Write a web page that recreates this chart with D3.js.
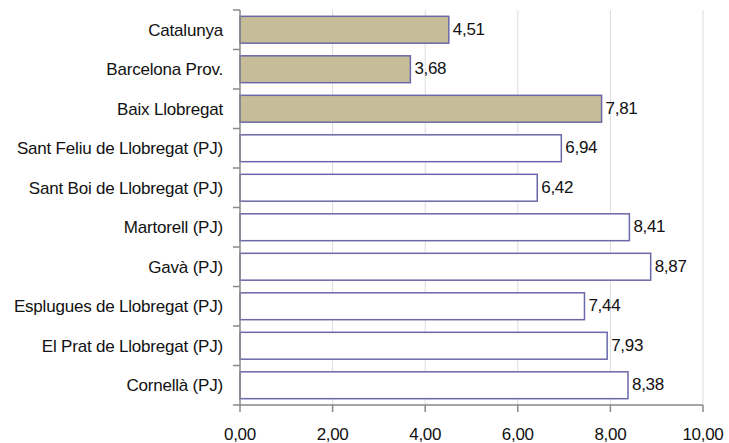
<!DOCTYPE html>
<html>
<head>
<meta charset="utf-8">
<script src="https://cdn.jsdelivr.net/npm/d3@7"></script>
<style>
  body { margin: 0; background: #fff; }
  text { font-family: "Liberation Sans", Arial, sans-serif; }
</style>
</head>
<body>
<script>
const categories = ['Catalunya', 'Barcelona Prov.', 'Baix Llobregat', 'Sant Feliu de Llobregat (PJ)',
    'Sant Boi de Llobregat (PJ)', 'Martorell (PJ)', 'Gavà (PJ)', 'Esplugues de Llobregat (PJ)',
    'El Prat de Llobregat (PJ)', 'Cornellà (PJ)']
const values = [4.51, 3.68, 7.81, 6.94, 6.42, 8.41, 8.87, 7.44, 7.93, 8.38]
const highlighted = ['Catalunya', 'Barcelona Prov.', 'Baix Llobregat']
const xTicks = [0, 2, 4, 6, 8, 10]

const margin = {top: 10, right: 26, bottom: 38, left: 240}
, width = 729 - margin.left - margin.right
, height = 443 - margin.top - margin.bottom

const data = categories.map((c, i) => ({name: c, value: values[i]}))
const fmt = v => d3.format('.2f')(v).replace('.', ',')

const svg = d3.select('body').append('svg')
    .attr('width', 729)
    .attr('height', 443)

const xScale = d3.scaleLinear()
    .domain([0, 10])
    .range([margin.left, margin.left + width])

const yScale = d3.scaleBand()
    .domain(categories)
    .range([margin.top, margin.top + height])
    .paddingInner(0.32)
    .paddingOuter(0.16)

// vertical gridlines
svg.selectAll('.grid').data(xTicks.slice(1))
    .enter()
    .append('line')
        .attr('x1', d => xScale(d))
        .attr('x2', d => xScale(d))
        .attr('y1', margin.top)
        .attr('y2', margin.top + height)
        .attr('stroke', '#dcdcdc')
        .attr('stroke-width', 1)

// bars
svg.selectAll('.bar').data(data)
    .enter()
    .append('rect')
        .attr('x', xScale(0))
        .attr('y', d => yScale(d.name))
        .attr('width', d => xScale(d.value) - xScale(0))
        .attr('height', yScale.bandwidth())
        .attr('fill', d => highlighted.includes(d.name) ? '#c6bd98' : '#ffffff')
        .attr('stroke', '#6a68a8')
        .attr('stroke-width', 1.5)

// value labels
svg.selectAll('.val').data(data)
    .enter()
    .append('text')
        .attr('x', d => xScale(d.value) + 4)
        .attr('y', d => yScale(d.name) + yScale.bandwidth() / 2 - 1)
        .attr('dy', '0.35em')
        .style('font-size', '17px')
        .style('letter-spacing', '-0.3px')
        .attr('fill', '#111')
        .text(d => fmt(d.value))

// left axis: line with ticks at category boundaries
const yBounds = d3.range(categories.length + 1).map(i => margin.top + i * height / categories.length)
svg.append('line')
    .attr('x1', xScale(0)).attr('x2', xScale(0))
    .attr('y1', margin.top).attr('y2', margin.top + height)
    .attr('stroke', '#888').attr('stroke-width', 1.5)
svg.selectAll('.ytick').data(yBounds)
    .enter()
    .append('line')
        .attr('x1', xScale(0) - 7).attr('x2', xScale(0))
        .attr('y1', d => d).attr('y2', d => d)
        .attr('stroke', '#888').attr('stroke-width', 1.5)

svg.selectAll('.ylab').data(categories)
    .enter()
    .append('text')
        .attr('x', xScale(0) - 17)
        .attr('y', d => yScale(d) + yScale.bandwidth() / 2)
        .attr('dy', '0.35em')
        .attr('text-anchor', 'end')
        .style('font-size', '17px')
        .style('letter-spacing', '-0.2px')
        .attr('fill', '#111')
        .text(d => d)

// bottom axis
svg.append('line')
    .attr('x1', xScale(0)).attr('x2', xScale(10))
    .attr('y1', margin.top + height).attr('y2', margin.top + height)
    .attr('stroke', '#888').attr('stroke-width', 1.5)
svg.selectAll('.xtick').data(xTicks)
    .enter()
    .append('line')
        .attr('x1', d => xScale(d)).attr('x2', d => xScale(d))
        .attr('y1', margin.top + height).attr('y2', margin.top + height + 7)
        .attr('stroke', '#888').attr('stroke-width', 1.5)
svg.selectAll('.xlab').data(xTicks)
    .enter()
    .append('text')
        .attr('x', d => xScale(d))
        .attr('y', margin.top + height + 35)
        .attr('text-anchor', 'middle')
        .style('font-size', '17px')
        .style('letter-spacing', '-0.3px')
        .attr('fill', '#111')
        .text(d => fmt(d))
</script>
</body>
</html>
